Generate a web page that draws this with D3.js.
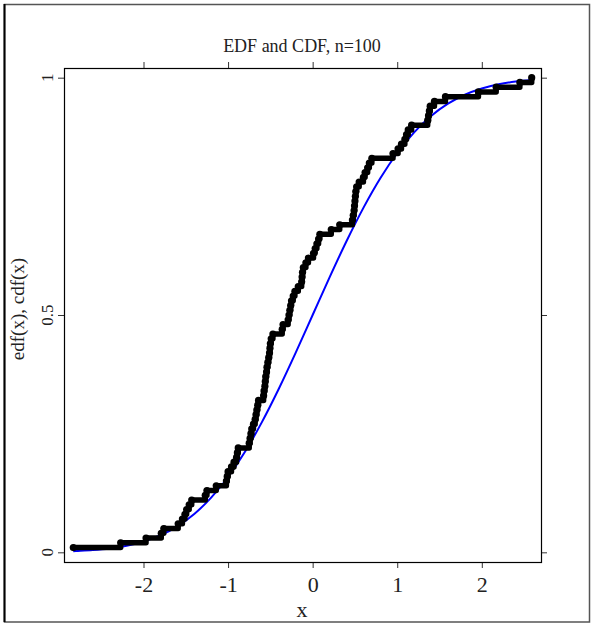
<!DOCTYPE html>
<html>
<head>
<meta charset="utf-8">
<script src="https://cdn.jsdelivr.net/npm/d3@7/dist/d3.min.js"></script>
<style>
  html, body { margin: 0; padding: 0; background: #fff; }
  svg { display: block; }
  text { font-family: "Liberation Serif", "DejaVu Serif", serif; }
</style>
</head>
<body>
<svg id="chart" width="594" height="624"></svg>
<script>
// ---- data ----
const titleText = "EDF and CDF, n=100";
const xLabelText = "x";
const yLabelText = "edf(x), cdf(x)";

const xTicks = [-2, -1, 0, 1, 2];
const xTickLabels = ["-2", "-1", "0", "1", "2"];
const yTicks = [0, 0.5, 1];
const yTickLabels = ["0", "0.5", "1"];

// sorted sample values (read from the steps)
const sampleX = [
  -2.83, -2.27, -1.97, -1.79, -1.76, -1.59, -1.54, -1.51, -1.49, -1.46,
  -1.43, -1.27, -1.25, -1.14, -1.02, -1.01, -1.00, -0.96, -0.93, -0.90,
  -0.89, -0.88, -0.75, -0.74, -0.73, -0.72, -0.70, -0.68, -0.67, -0.66,
  -0.65, -0.64, -0.58, -0.575, -0.565, -0.56, -0.555, -0.545, -0.54, -0.53,
  -0.52, -0.51, -0.505, -0.50, -0.49, -0.47, -0.36, -0.35, -0.29, -0.28,
  -0.27, -0.26, -0.25, -0.23, -0.21, -0.17, -0.13, -0.125, -0.12, -0.11,
  -0.08, -0.05, 0.01, 0.03, 0.05, 0.07, 0.085, 0.22, 0.32, 0.47,
  0.48, 0.49, 0.495, 0.50, 0.505, 0.51, 0.52, 0.55, 0.60, 0.62,
  0.65, 0.67, 0.70, 0.95, 1.01, 1.05, 1.09, 1.11, 1.13, 1.17,
  1.36, 1.37, 1.38, 1.39, 1.44, 1.57, 1.96, 2.17, 2.45, 2.59
];
// empirical distribution values at those samples
const edfY = [
  0.01, 0.02, 0.03, 0.04, 0.05, 0.06, 0.07, 0.08, 0.09, 0.10,
  0.11, 0.12, 0.13, 0.14, 0.15, 0.16, 0.17, 0.18, 0.19, 0.20,
  0.21, 0.22, 0.23, 0.24, 0.25, 0.26, 0.27, 0.28, 0.29, 0.30,
  0.31, 0.32, 0.33, 0.34, 0.35, 0.36, 0.37, 0.38, 0.39, 0.40,
  0.41, 0.42, 0.43, 0.44, 0.45, 0.46, 0.47, 0.48, 0.49, 0.50,
  0.51, 0.52, 0.53, 0.54, 0.55, 0.56, 0.57, 0.58, 0.59, 0.60,
  0.61, 0.62, 0.63, 0.64, 0.65, 0.66, 0.67, 0.68, 0.69, 0.70,
  0.71, 0.72, 0.73, 0.74, 0.75, 0.76, 0.77, 0.78, 0.79, 0.80,
  0.81, 0.82, 0.83, 0.84, 0.85, 0.86, 0.87, 0.88, 0.89, 0.90,
  0.91, 0.92, 0.93, 0.94, 0.95, 0.96, 0.97, 0.98, 0.99, 1.00
];

// theoretical CDF (blue curve)
const cdfX = [-2.83, -2.8, -2.6, -2.4, -2.2, -2.0, -1.8, -1.6, -1.4, -1.2, -1.0,
  -0.8, -0.6, -0.4, -0.2, 0.0, 0.2, 0.4, 0.6, 0.8, 1.0, 1.2, 1.4, 1.6, 1.8,
  2.0, 2.2, 2.4, 2.59];
const cdfY = [0.0023, 0.0026, 0.0047, 0.0082, 0.0139, 0.0228, 0.0359, 0.0548, 0.0808,
  0.1151, 0.1587, 0.2119, 0.2743, 0.3446, 0.4207, 0.5000, 0.5793, 0.6554, 0.7257,
  0.7881, 0.8413, 0.8849, 0.9192, 0.9452, 0.9641, 0.9772, 0.9861, 0.9918, 0.9952];

// ---- layout ----
const svg = d3.select("#chart");
const plot = { left: 64, right: 541, top: 68, bottom: 562 };

const x = d3.scaleLinear().domain([-2.94, 2.70]).range([plot.left, plot.right]);
const y = d3.scaleLinear().domain([-0.0204, 1.0204]).range([plot.bottom, plot.top]);

// outer frame
svg.append("rect")
  .attr("x", 4.5).attr("y", 4.5)
  .attr("width", 585).attr("height", 617.5)
  .attr("fill", "none").attr("stroke", "#555").attr("stroke-width", 1.5);
svg.append("line")
  .attr("x1", 4.5).attr("x2", 4.5).attr("y1", 4).attr("y2", 622)
  .attr("stroke", "#000").attr("stroke-width", 2);

// clip for data
svg.append("clipPath").attr("id", "clip")
  .append("rect")
  .attr("x", plot.left).attr("y", plot.top)
  .attr("width", plot.right - plot.left).attr("height", plot.bottom - plot.top);

const g = svg.append("g").attr("clip-path", "url(#clip)");

const edfPts = sampleX.map((v, i) => [v, edfY[i]]);
const cdfPts = cdfX.map((v, i) => [v, cdfY[i]]);

// CDF (blue)
const smooth = d3.line()
  .x(d => x(d[0])).y(d => y(d[1]))
  .curve(d3.curveMonotoneX);
g.append("path")
  .datum(cdfPts)
  .attr("d", smooth)
  .attr("fill", "none")
  .attr("stroke", "#0000ff")
  .attr("stroke-width", 2);

// EDF (black step curve with points)
const stepLine = d3.line()
  .x(d => x(d[0])).y(d => y(d[1]))
  .curve(d3.curveStepAfter);
g.append("path")
  .datum(edfPts)
  .attr("d", stepLine)
  .attr("fill", "none")
  .attr("stroke", "#000")
  .attr("stroke-width", 5.5)
  .attr("stroke-linejoin", "round")
  .attr("stroke-linecap", "round");
g.selectAll("circle.pt")
  .data(edfPts)
  .join("circle")
  .attr("class", "pt")
  .attr("cx", d => x(d[0]))
  .attr("cy", d => y(d[1]))
  .attr("r", 3.6)
  .attr("fill", "#000");

// axes
const tickLen = 6;
const axBottom = d3.axisBottom(x).tickValues(xTicks).tickFormat((d, i) => xTickLabels[i]).tickSize(tickLen).tickPadding(8);
const axTop = d3.axisTop(x).tickValues(xTicks).tickFormat("").tickSize(tickLen);
const axLeft = d3.axisLeft(y).tickValues(yTicks).tickFormat("").tickSize(tickLen);
const axRight = d3.axisRight(y).tickValues(yTicks).tickFormat("").tickSize(tickLen);

function styleAxis(sel) {
  sel.select(".domain").remove();
  sel.selectAll(".tick line").attr("stroke", "#333").attr("stroke-width", 1);
}
const gb = svg.append("g").attr("transform", `translate(0,${plot.bottom})`).call(axBottom).call(styleAxis);
gb.selectAll(".tick text")
  .attr("font-family", "Liberation Serif, serif")
  .attr("font-size", 22).attr("fill", "#222");
svg.append("g").attr("transform", `translate(0,${plot.top})`).call(axTop).call(styleAxis);
svg.append("g").attr("transform", `translate(${plot.left},0)`).call(axLeft).call(styleAxis);
svg.append("g").attr("transform", `translate(${plot.right},0)`).call(axRight).call(styleAxis);

// y tick labels (rotated)
svg.selectAll("text.ytl")
  .data(yTicks)
  .join("text")
  .attr("class", "ytl")
  .attr("transform", (d) => `translate(${plot.left - 11},${y(d)}) rotate(-90)`)
  .attr("text-anchor", "middle")
  .attr("font-size", 17)
  .attr("fill", "#222")
  .text((d, i) => yTickLabels[i]);

// plot box
svg.append("rect")
  .attr("x", plot.left + 0.5).attr("y", plot.top + 0.5)
  .attr("width", plot.right - plot.left).attr("height", plot.bottom - plot.top)
  .attr("fill", "none").attr("stroke", "#000").attr("stroke-width", 1.2);

// title
svg.append("text")
  .attr("x", 302)
  .attr("y", 52)
  .attr("text-anchor", "middle")
  .attr("font-size", 18)
  .attr("fill", "#222")
  .text(titleText);

// x label
svg.append("text")
  .attr("x", 302)
  .attr("y", 617)
  .attr("text-anchor", "middle")
  .attr("font-size", 22)
  .attr("fill", "#222")
  .text(xLabelText);

// y label
svg.append("text")
  .attr("transform", `translate(24,309) rotate(-90)`)
  .attr("text-anchor", "middle")
  .attr("font-size", 19)
  .attr("fill", "#222")
  .text(yLabelText);
</script>
</body>
</html>
